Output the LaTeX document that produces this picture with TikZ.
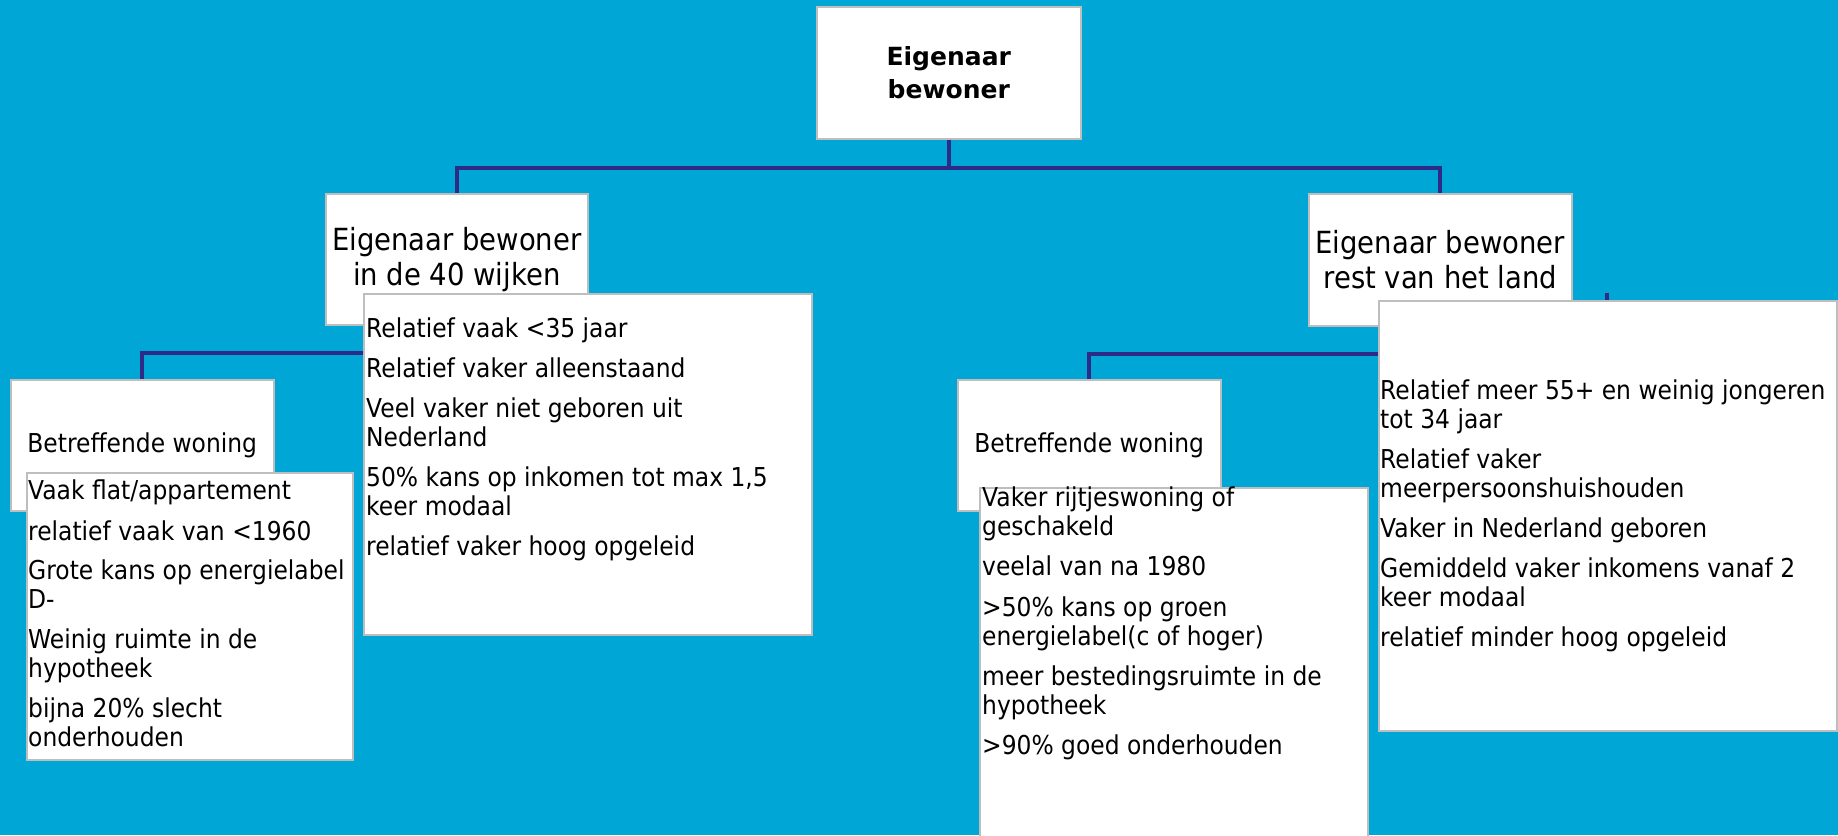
\documentclass[tikz,border=0pt]{standalone}
\usepackage{fontspec}
\setmainfont{DejaVu Sans}
\newfontfamily\narrowfont{DejaVu Sans}[FakeStretch=0.9]
\usetikzlibrary{positioning}

\definecolor{skyback}{RGB}{0,166,214}
\definecolor{linkblue}{RGB}{45,43,135}
\definecolor{boxgrey}{RGB}{190,190,190}

\tikzset{
  box/.style={draw=boxgrey, line width=1.5pt, fill=white, anchor=north west, inner sep=0pt},
  link/.style={draw=linkblue, line width=4pt},
  item/.style={anchor=north west, inner sep=0pt, align=left,
    font=\narrowfont\fontsize{26}{29}\selectfont},
  headfont/.style={font=\narrowfont\fontsize{30.5}{35}\selectfont, align=center},
  subfont/.style={font=\narrowfont\fontsize{26}{29}\selectfont},
}

\begin{document}
\begin{tikzpicture}[x=1pt,y=-1pt]

  \fill[skyback] (0,0) rectangle (1838,835);
  \useasboundingbox (0,0) rectangle (1838,835);
  \clip (0,0) rectangle (1838,835);

  % boxes of the tree
  \node[box, minimum width=264pt, minimum height=132pt, align=center,
    font=\bfseries\fontsize{25}{33}\selectfont] (eigenaar) at (816,6) {Eigenaar\\bewoner};
  \node[box, headfont, minimum width=262pt, minimum height=131pt] (wijk) at (325,193) {Eigenaar bewoner\\in de 40 wijken};
  \node[box, headfont, minimum width=263pt, minimum height=132pt] (land) at (1308,193) {Eigenaar bewoner\\rest van het land};
  \node[box, subfont, minimum width=263pt, minimum height=131pt] (woning1) at (10,379) {Betreffende woning};
  \node[box, subfont, minimum width=263pt, minimum height=131pt] (woning2) at (957,379) {Betreffende woning};
  \coordinate (landstub) at (1607,293);

  % connectors
  \draw[link] (eigenaar.south) -- ++(0,28) -| (wijk.north);
  \draw[link] (eigenaar.south) -- ++(0,28) -| (land.north);
  \draw[link] (wijk.south) -- ++(0,27) -| (woning1.north);
  \draw[link] (land.south) -- ++(0,27) -| (woning2.north);
  \draw[link] (land.south) -- ++(0,27) -| (landstub);

  % text boxes
  \node[box, minimum width=448pt, minimum height=341pt] (prof1) at (363,293) {};
  \node[item] (prof1txt) at ([shift={(3,25)}]prof1.north west)
    {Relatief vaak <35 jaar\\[11pt]
     Relatief vaker alleenstaand\\[11pt]
     Veel vaker niet geboren uit\\Nederland\\[11pt]
     50\% kans op inkomen tot max 1,5\\keer modaal\\[11pt]
     relatief vaker hoog opgeleid};

  \node[box, minimum width=458pt, minimum height=430pt] (prof2) at (1378,300) {};
  \node[item, anchor=west] (prof2txt) at ([xshift=2pt]prof2.west)
    {Relatief meer 55+ en weinig jongeren\\tot 34 jaar\\[11pt]
     Relatief vaker\\meerpersoonshuishouden\\[11pt]
     Vaker in Nederland geboren\\[11pt]
     Gemiddeld vaker inkomens vanaf 2\\keer modaal\\[11pt]
     relatief minder hoog opgeleid};

  \node[box, minimum width=326pt, minimum height=287pt] (huis1) at (26,472) {};
  \node[item] (huis1txt) at ([shift={(2,8)}]huis1.north west)
    {Vaak flat/appartement\\[12pt]
     relatief vaak van <1960\\[10pt]
     Grote kans op energielabel\\D-\\[11pt]
     Weinig ruimte in de\\hypotheek\\[11pt]
     bijna 20\% slecht\\onderhouden};

  \node[box, minimum width=388pt, minimum height=370pt] (huis2) at (979,487) {};
  \node[item] (huis2txt) at ([shift={(3,0)}]huis2.north west)
    {Vaker rijtjeswoning of\\geschakeld\\[11pt]
     veelal van na 1980\\[12pt]
     >50\% kans op groen\\energielabel(c of hoger)\\[11pt]
     meer bestedingsruimte in de\\hypotheek\\[11pt]
     >90\% goed onderhouden};

\end{tikzpicture}
\end{document}
